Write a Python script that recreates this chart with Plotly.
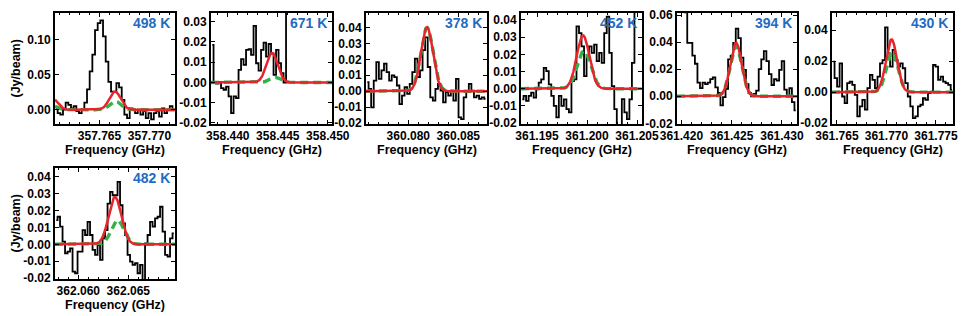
import numpy as np
import plotly.graph_objects as go

# ---------------- data ----------------
temps = ["498 K", "671 K", "378 K", "452 K", "394 K", "430 K", "482 K"]

# channel grid: first channel centre (GHz) and channel width (GHz)
p1_f0, p1_df = 357.76068, 0.000267
p2_f0, p2_df = 358.43845, 0.000250
p3_f0, p3_df = 360.07590, 0.000257
p4_f0, p4_df = 361.19353, 0.000252
p5_f0, p5_df = 361.41969, 0.000254
p6_f0, p6_df = 361.76463, 0.000255
p7_f0, p7_df = 362.05780, 0.000250

p1_flux = [0.002, -0.005, -0.007, 0.000, 0.010, 0.007, 0.002, 0.005, -0.002, -0.005,
           0.000, 0.010, 0.029, 0.055, 0.079, 0.114, 0.124, 0.128, 0.105, 0.069,
           0.040, 0.026, 0.026, 0.038, 0.032, 0.014, -0.007, -0.012, 0.002, 0.000,
           -0.005, 0.000, -0.007, -0.002, -0.012, -0.005, -0.014, -0.005, -0.002, -0.010,
           0.002, -0.005, 0.000, 0.005, 0.000]
p2_flux = [0.0185, 0.0, -0.0005, 0.0003, -0.0028, -0.0036, -0.002, -0.0069, -0.0151, -0.0069,
           -0.0077, 0.0062, 0.0115, 0.0087, 0.0161, 0.0164, 0.0136, 0.0279, 0.0095, 0.0059,
           0.0161, 0.0197, 0.0128, 0.019, 0.0144, 0.0038, 0.0161, 0.0095, 0.0046, 0.0,
           0.05, 0.05, 0.05, 0.05, 0.05, 0.05, 0.05, 0.05, 0.05, 0.05,
           0.05, 0.05, 0.05, 0.05, 0.05, 0.05, 0.05, 0.05, 0.05]
p3_flux = [0.0057, 0.0015, -0.0101, 0.0067, 0.0183, 0.0078, 0.0131, 0.0173, 0.012, 0.0067,
           0.0099, 0.0088, 0.0036, -0.008, -0.0027, 0.0025, -0.0017, 0.0046, 0.012, 0.0204,
           0.0088, 0.0131, 0.0257, 0.0337, 0.0152, -0.0038, -0.0059, 0.0015, 0.0046, 0.0004,
           -0.0069, -0.0006, -0.0027, 0.0004, -0.0059, 0.0078, -0.0164, -0.0175, -0.0038, -0.0006,
           0.0046, 0.0004, -0.0038, -0.0027, -0.0048, -0.0038, -0.0048]
p4_flux = [-0.0062, -0.0042, -0.0071, -0.0042, -0.0023, -0.0052, -0.0004, 0.0035, 0.0054, 0.0121,
           0.0102, 0.0025, -0.0042, -0.010, -0.0167, -0.0042, -0.010, -0.0062, -0.0119, -0.0138,
           0.0044, 0.0054, 0.0362, 0.0323, 0.0246, 0.0073, 0.0188, 0.0246, 0.0208, 0.0256,
           0.016, 0.0208, 0.015, 0.0323, 0.0419, 0.0208, 0.0015, -0.0119, -0.03, -0.03,
           -0.006, -0.0138, -0.0177, -0.0062, 0.015, 0.06, 0.06, 0.06]
p5_flux = [0.07, 0.07, 0.065, 0.062, 0.0395, 0.0395, 0.030, 0.024, 0.010, 0.006,
           0.010, 0.009, 0.010, 0.0127, 0.014, 0.0066, 0.0024, -0.0068, -0.0007, 0.0054,
           0.0273, 0.030, 0.0395, 0.050, 0.043, 0.0285, 0.0195, 0.009, 0.0024, 0.0,
           0.0017, 0.0041, 0.020, 0.0273, 0.0334, 0.026, 0.0163, 0.0083, 0.0127, 0.0115,
           0.0195, 0.026, 0.0049, -0.0007, 0.0059, -0.0044, -0.0105]
p6_flux = [0.0197, 0.009, 0.0036, 0.0186, -0.0028, -0.0071, 0.0058, 0.0068, 0.0047, -0.0017,
           -0.0156, -0.0092, -0.0049, -0.0113, 0.0026, 0.0111, 0.0079, 0.0026, 0.010, 0.0186,
           0.0207, 0.0417, 0.025, 0.0165, 0.0272, 0.0207, 0.0165, 0.0186, 0.0154, 0.0058,
           -0.0028, -0.0092, -0.0167, -0.0156, -0.0092, -0.0081, -0.0039, -0.0049, -0.0006, 0.0004,
           0.0175, 0.0165, 0.0079, 0.010, 0.0068, 0.0058, 0.0047, 0.0015]
p7_flux = [0.0143, 0.0163, 0.0104, 0.0016, -0.0053, -0.0043, -0.0024, -0.0161, -0.0171, -0.0043,
           -0.0043, 0.0084, 0.0055, 0.0133, 0.0055, -0.0033, -0.0063, -0.0004, -0.0092, 0.0035,
           0.0084, 0.0241, 0.031, 0.029, 0.029, 0.0369, 0.0231, 0.0124, 0.0055, -0.0063,
           -0.0102, -0.0122, -0.0112, -0.0171, -0.0122, -0.024, 0.0006, 0.0055, 0.0133, 0.0104,
           0.0153, 0.0163, 0.0222, 0.0075, -0.0063, -0.0073, 0.0035, 0.0065]

# Gaussian fit components: (amplitude Jy/beam, centre GHz, sigma GHz)
p1_red = [(0.026, 357.76655, 0.000565), (0.015, 357.76039, 0.0005)]
p1_green = [(0.012, 357.76660, 0.00055), (0.005, 357.76039, 0.0005)]
p2_red = [(0.0145, 358.44442, 0.000565)]
p2_green = [(0.0025, 358.44475, 0.00055)]
p3_red = [(0.040, 360.08187, 0.000595)]
p3_green = [(0.040, 360.08187, 0.00062)]
p4_red = [(0.031, 361.19960, 0.000637)]
p4_green = [(0.022, 361.19970, 0.00068)]
p5_red = [(0.0395, 361.42543, 0.000565)]
p5_green = [(0.037, 361.42543, 0.00058)]
p6_red = [(0.034, 361.77051, 0.000565)]
p6_green = [(0.026, 361.77058, 0.00058)]
p7_red = [(0.028, 362.06367, 0.000637)]
p7_green = [(0.0143, 362.06392, 0.00062)]

# axis ranges
p1_xr, p1_yr = [357.76055, 357.77255], [-0.0205, 0.1386]
p2_xr, p2_yr = [358.43832, 358.45042], [-0.0205, 0.0343]
p3_xr, p3_yr = [360.07577, 360.08787], [-0.0205, 0.049]
p4_xr, p4_yr = [361.19340, 361.20550], [-0.0205, 0.044]
p5_xr, p5_yr = [361.41956, 361.43150], [-0.0205, 0.0615]
p6_xr, p6_yr = [361.76450, 361.77672], [-0.0205, 0.051]
p7_xr, p7_yr = [362.05767, 362.06967], [-0.0205, 0.0451]

# tick values / labels
p1_xt = [357.765, 357.770]; p1_xl = ["357.765", "357.770"]
p2_xt = [358.440, 358.445, 358.450]; p2_xl = ["358.440", "358.445", "358.450"]
p3_xt = [360.080, 360.085]; p3_xl = ["360.080", "360.085"]
p4_xt = [361.195, 361.200, 361.205]; p4_xl = ["361.195", "361.200", "361.205"]
p5_xt = [361.420, 361.425, 361.430]; p5_xl = ["361.420", "361.425", "361.430"]
p6_xt = [361.765, 361.770, 361.775]; p6_xl = ["361.765", "361.770", "361.775"]
p7_xt = [362.060, 362.065]; p7_xl = ["362.060", "362.065"]

p1_yt = [0.0, 0.05, 0.10]; p1_yl = ["0.00", "0.05", "0.10"]
p2_yt = [-0.02, -0.01, 0.0, 0.01, 0.02, 0.03]; p2_yl = ["-0.02", "-0.01", "0.00", "0.01", "0.02", "0.03"]
p3_yt = [-0.02, -0.01, 0.0, 0.01, 0.02, 0.03, 0.04]; p3_yl = ["-0.02", "-0.01", "0.00", "0.01", "0.02", "0.03", "0.04"]
p4_yt = p3_yt; p4_yl = p3_yl
p5_yt = [-0.02, 0.0, 0.02, 0.04, 0.06]; p5_yl = ["-0.02", "0.00", "0.02", "0.04", "0.06"]
p6_yt = [-0.02, 0.0, 0.02, 0.04]; p6_yl = ["-0.02", "0.00", "0.02", "0.04"]
p7_yt = p3_yt; p7_yl = p3_yl

x_title = "Frequency (GHz)"
y_title = "(Jy/beam)"

panels = [
    (p1_f0, p1_df, p1_flux, p1_red, p1_green, p1_xr, p1_yr, p1_xt, p1_xl, p1_yt, p1_yl),
    (p2_f0, p2_df, p2_flux, p2_red, p2_green, p2_xr, p2_yr, p2_xt, p2_xl, p2_yt, p2_yl),
    (p3_f0, p3_df, p3_flux, p3_red, p3_green, p3_xr, p3_yr, p3_xt, p3_xl, p3_yt, p3_yl),
    (p4_f0, p4_df, p4_flux, p4_red, p4_green, p4_xr, p4_yr, p4_xt, p4_xl, p4_yt, p4_yl),
    (p5_f0, p5_df, p5_flux, p5_red, p5_green, p5_xr, p5_yr, p5_xt, p5_xl, p5_yt, p5_yl),
    (p6_f0, p6_df, p6_flux, p6_red, p6_green, p6_xr, p6_yr, p6_xt, p6_xl, p6_yt, p6_yl),
    (p7_f0, p7_df, p7_flux, p7_red, p7_green, p7_xr, p7_yr, p7_xt, p7_xl, p7_yt, p7_yl),
]

# ---------------- layout geometry (pixels on screen) ----------------
W, H = 969, 316
OX, OY = 8, 8   # page body margin offset of the plot div
boxes = [(55, 175, 13, 124), (211, 332, 13, 124), (366, 487, 13, 124),
         (521, 642, 13, 124), (677, 797, 13, 124), (832, 953, 13, 124),
         (55, 175, 168, 279)]

FONT = "Liberation Sans, Arial, Helvetica, sans-serif"
RED = "#e8232b"
GREEN = "#35b04a"
BLUE = "#1f6bbf"


def px_x(v):
    return (v - OX) / W


def px_y(v):
    return 1 - (v - OY) / H


def gauss_sum(x, comps):
    y = np.zeros_like(x)
    for a, c, s in comps:
        y = y + a * np.exp(-0.5 * ((x - c) / s) ** 2)
    return y


fig = go.Figure()
annotations = []
layout = dict(width=W, height=H, autosize=False,
              margin=dict(l=0, r=0, t=0, b=0, autoexpand=False),
              paper_bgcolor="white", plot_bgcolor="white",
              showlegend=False, font=dict(family=FONT, color="black"))

for i, (f0, df, flux, red, green, xr, yr, xt, xl, yt, yl) in enumerate(panels):
    n = i + 1
    xa = "x" if n == 1 else f"x{n}"
    ya = "y" if n == 1 else f"y{n}"
    freqs = f0 + df * np.arange(len(flux))
    fig.add_trace(go.Scatter(x=freqs, y=flux, mode="lines", line=dict(color="black", width=1.8, shape="hvh"),
                             xaxis=xa, yaxis=ya, hoverinfo="skip"))
    xf = np.linspace(xr[0], xr[1], 400)
    fig.add_trace(go.Scatter(x=xf, y=gauss_sum(xf, green), mode="lines",
                             line=dict(color=GREEN, width=3.4, dash="8px,5px"),
                             xaxis=xa, yaxis=ya, hoverinfo="skip"))
    fig.add_trace(go.Scatter(x=xf, y=gauss_sum(xf, red), mode="lines",
                             line=dict(color=RED, width=2.5),
                             xaxis=xa, yaxis=ya, hoverinfo="skip"))
    l, r, t, b = boxes[i]
    common = dict(showline=True, linewidth=2, linecolor="black", mirror="ticks",
                  ticks="inside", ticklen=4, tickwidth=1.2, tickcolor="black",
                  showgrid=False, zeroline=False, automargin=False, tickangle=0,
                  tickfont=dict(family=FONT, size=12, color="black", weight="bold"))
    layout[f"xaxis{n}"] = dict(common, domain=[px_x(l), px_x(r)], range=xr, anchor=ya,
                               tickmode="array", tickvals=xt, ticktext=xl,
                               minor=dict(ticks="inside", ticklen=2, tickcolor="black", dtick=0.001))
    layout[f"yaxis{n}"] = dict(common, domain=[px_y(b), px_y(t)], range=yr, anchor=xa,
                               tickmode="array", tickvals=yt, ticktext=yl)
    # x title
    annotations.append(dict(text=x_title, x=px_x((l + r) / 2), y=px_y(b + 26),
                            xref="paper", yref="paper", xanchor="center", yanchor="middle",
                            showarrow=False, font=dict(family=FONT, size=12.5, color="black", weight="bold")))
    # temperature label
    annotations.append(dict(text=temps[i], x=px_x(r - 3), y=px_y(t + 10),
                            xref="paper", yref="paper", xanchor="right", yanchor="middle",
                            showarrow=False, font=dict(family=FONT, size=14, color=BLUE, weight="bold")))
    if l < 100:
        annotations.append(dict(text=y_title, x=px_x(15), y=px_y((t + b) / 2),
                                xref="paper", yref="paper", xanchor="center", yanchor="middle",
                                textangle=-90, showarrow=False,
                                font=dict(family=FONT, size=12.5, color="black", weight="bold")))

layout["annotations"] = annotations
fig.update_layout(**layout)
fig.write_html("out.html")
